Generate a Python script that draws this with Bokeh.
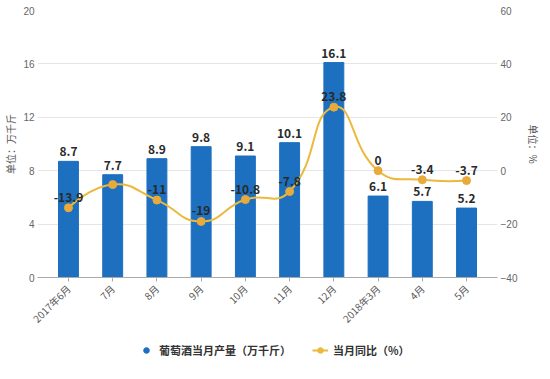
import math
from bokeh.plotting import figure
from bokeh.layouts import column
from bokeh.models import (Range1d, LinearAxis, FixedTicker, Legend, LegendItem,
                          ColumnDataSource, LabelSet)
from bokeh.core.properties import value
from bokeh.embed import file_html
from bokeh.resources import INLINE

categories = ["2017年6月", "7月", "8月", "9月", "10月", "11月", "12月", "2018年3月", "4月", "5月"]
output = [8.7, 7.7, 8.9, 9.8, 9.1, 10.1, 16.1, 6.1, 5.7, 5.2]
yoy = [-13.9, -5.2, -11, -19, -10.8, -7.8, 23.8, 0, -3.4, -3.7]
yoy_labels = ["-13.9", "", "-11", "-19", "-10.8", "-7.8", "23.8", "0", "-3.4", "-3.7"]
left_ticks = [0, 4, 8, 12, 16, 20]
right_ticks = [-40, -20, 0, 20, 40, 60]

BLUE = "#1d6fc0"
GOLD = "#ebb93b"
FONT = "Noto Sans CJK SC"

xs = list(range(len(categories)))

FW, FH = 460, 267
p = figure(frame_width=FW, frame_height=FH, output_backend="svg", toolbar_location=None,
           x_range=Range1d(-0.7, 9.7), y_range=Range1d(0, 20),
           min_border_left=37, min_border_right=40, min_border_top=10, min_border_bottom=56)
p.extra_y_ranges = {"pct": Range1d(-40, 60)}
p.outline_line_color = None
p.xgrid.grid_line_color = None
p.ygrid.grid_line_color = "#e6e6e6"
p.ygrid.ticker = FixedTicker(ticks=left_ticks)

# bars
src = ColumnDataSource(dict(x=xs, top=output, lab=[str(v) for v in output]))
p.vbar(x="x", top="top", width=0.45, color=BLUE, source=src)
p.add_layout(LabelSet(x="x", y="top", text="lab", source=src, y_offset=5,
                      text_align="center", text_font=value(FONT), text_font_size="12px",
                      text_font_style="bold", text_color="#2a2a2a"))

# smooth line (echarts-like smoothing) via bezier segments
sm = 0.5
px_x = FW / 10.4          # pixels per category step
px_y = FH / 100.0         # pixels per percent unit
n = len(xs)
def dist(i, j):
    return math.hypot((xs[j] - xs[i]) * px_x, (yoy[j] - yoy[i]) * px_y)
cp_before, cp_after = [], []
for i in range(n):
    if i == 0 or i == n - 1:
        cp_before.append((xs[i], yoy[i])); cp_after.append((xs[i], yoy[i]))
        continue
    vx = xs[i + 1] - xs[i - 1]
    vy = yoy[i + 1] - yoy[i - 1]
    lp, ln = dist(i - 1, i), dist(i, i + 1)
    rb = sm * lp / (lp + ln)
    ra_ = sm * ln / (lp + ln)
    cp_before.append((xs[i] - vx * rb, yoy[i] - vy * rb))
    cp_after.append((xs[i] + vx * ra_, yoy[i] + vy * ra_))
bz = dict(x0=xs[:-1], y0=yoy[:-1], x1=xs[1:], y1=yoy[1:],
          cx0=[c[0] for c in cp_after[:-1]], cy0=[c[1] for c in cp_after[:-1]],
          cx1=[c[0] for c in cp_before[1:]], cy1=[c[1] for c in cp_before[1:]])
p.bezier(line_color=GOLD, line_width=2, y_range_name="pct", **bz)
lsrc = ColumnDataSource(dict(x=xs, y=yoy, lab=yoy_labels))
p.scatter(x="x", y="y", source=lsrc, size=8, fill_color="#e9aa3c", line_color="#e9aa3c",
          y_range_name="pct")
p.add_layout(LabelSet(x="x", y="y", text="lab", source=lsrc, y_offset=6, y_range_name="pct",
                      text_align="center", text_font=value(FONT), text_font_size="12px",
                      text_font_style="bold", text_color="#2a2a2a"))

# axes
p.yaxis.ticker = FixedTicker(ticks=left_ticks)
p.yaxis.axis_line_color = None
p.yaxis.major_tick_line_color = None
p.yaxis.major_tick_out = 0
p.yaxis.major_tick_in = 0
p.yaxis.minor_tick_line_color = None
p.yaxis.minor_tick_out = 0
p.yaxis.major_label_text_color = "#666666"
p.yaxis.major_label_text_font_size = "10px"
p.yaxis.major_label_standoff = 3
p.yaxis.axis_label = "单位：万千斤"
p.yaxis.axis_label_text_font = FONT
p.yaxis.axis_label_text_font_style = "normal"
p.yaxis.axis_label_text_font_size = "10px"
p.yaxis.axis_label_text_color = "#555555"
p.yaxis.axis_label_standoff = 2

ra = LinearAxis(y_range_name="pct", ticker=FixedTicker(ticks=right_ticks))
ra.axis_line_color = None
ra.major_tick_line_color = None
ra.major_tick_out = 0
ra.major_tick_in = 0
ra.minor_tick_line_color = None
ra.minor_tick_out = 0
ra.major_label_text_color = "#666666"
ra.major_label_text_font_size = "10px"
ra.major_label_standoff = 3
ra.axis_label = "单位：%"
ra.axis_label_text_font = FONT
ra.axis_label_text_font_style = "normal"
ra.axis_label_text_font_size = "10px"
ra.axis_label_text_color = "#555555"
ra.axis_label_standoff = 6
p.add_layout(ra, "right")

p.xaxis.ticker = FixedTicker(ticks=xs)
p.xaxis.major_label_overrides = {i: c for i, c in zip(xs, categories)}
p.xaxis.major_label_orientation = math.pi / 4
p.xaxis.major_label_text_font = FONT
p.xaxis.major_label_text_font_size = "10px"
p.xaxis.major_label_text_color = "#555555"
p.xaxis.axis_line_color = "#aaaaaa"
p.xaxis.major_tick_line_color = "#aaaaaa"
p.xaxis.major_tick_in = 0
p.xaxis.major_tick_out = 4
p.xaxis.minor_tick_line_color = None

# legend in its own strip
lg = figure(width=540, height=30, output_backend="svg", toolbar_location=None,
            x_range=Range1d(0, 1), y_range=Range1d(0, 1),
            min_border_left=0, min_border_right=0, min_border_top=0, min_border_bottom=0)
lg.axis.visible = False
lg.grid.visible = False
lg.outline_line_color = None
r1 = lg.scatter(x=[-5], y=[-5], size=10, color=BLUE, marker="circle")
r2 = lg.line(x=[-5, -4], y=[-5, -5], line_color=GOLD, line_width=2)
r3 = lg.scatter(x=[-5], y=[-5], size=6, color=GOLD, marker="circle")
legend = Legend(items=[LegendItem(label="葡萄酒当月产量（万千斤）", renderers=[r1]),
                       LegendItem(label="当月同比（%）", renderers=[r2, r3])],
                orientation="horizontal", location=(101, 5),
                label_text_font=FONT, label_text_font_size="11px",
                label_text_font_style="bold", label_text_color="#333333",
                border_line_color=None, background_fill_alpha=0,
                spacing=21, glyph_width=16, glyph_height=14, label_height=16,
                margin=0, padding=2)
lg.add_layout(legend)

layout = column(p, lg, spacing=0)
open("out.html", "w").write(file_html(layout, INLINE))
